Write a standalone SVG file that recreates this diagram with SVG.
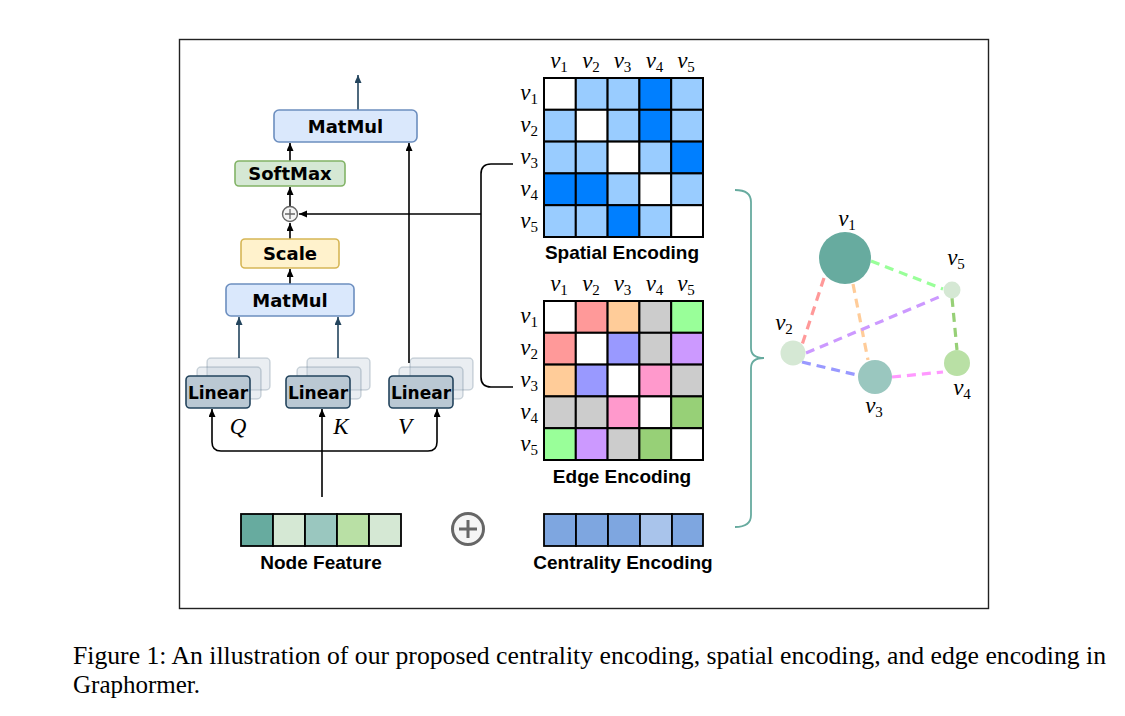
<svg xmlns="http://www.w3.org/2000/svg" width="1125" height="716" viewBox="0 0 1125 716">
<style>
.box{font-family:"DejaVu Sans",Verdana,sans-serif;font-weight:bold;font-size:18px;fill:#000;text-anchor:middle}
.lin{font-family:"DejaVu Sans",Verdana,sans-serif;font-weight:bold;font-size:17px;fill:#000;text-anchor:middle}
.cap{font-family:"Liberation Sans",Arial,sans-serif;font-weight:bold;font-size:19px;fill:#000;text-anchor:middle}
.m{font-family:"Liberation Serif","Times New Roman",serif;font-style:italic;font-size:23px;fill:#000}
.m tspan.s{font-style:normal;font-size:15px}
.mc{text-anchor:middle}
.me{text-anchor:end}
.cell{stroke:#000;stroke-width:2}
.ln{fill:none;stroke:#000;stroke-width:1.6}
.lnd{fill:none;stroke:#23445d;stroke-width:1.6}
.ge{fill:none;stroke-width:3.2;stroke-dasharray:9 6}
.back{fill:#bac8d3;fill-opacity:0.3;stroke:#23445d;stroke-opacity:0.2;stroke-width:1.5}
.front{fill:#bac8d3;stroke:#23445d;stroke-width:1.6}
</style>
<defs>
<marker id="ab" markerUnits="userSpaceOnUse" markerWidth="9" markerHeight="8" refX="8" refY="3.5" orient="auto"><path d="M0,0 L8,3.5 L0,7 Z" fill="#000"/></marker>
<marker id="ad" markerUnits="userSpaceOnUse" markerWidth="9" markerHeight="8" refX="8" refY="3.5" orient="auto"><path d="M0,0 L8,3.5 L0,7 Z" fill="#23445d"/></marker>
</defs>
<rect x="0" y="0" width="1125" height="716" fill="#fff"/>
<rect id="frame" x="179.5" y="39.5" width="809" height="569" fill="none" stroke="#222" stroke-width="1.4"/>

<g id="connectors">
<line class="lnd" x1="358" y1="110" x2="358" y2="75" marker-end="url(#ad)"/>
<line class="ln" x1="290" y1="161" x2="290" y2="143" marker-end="url(#ab)"/>
<line class="ln" x1="290" y1="206" x2="290" y2="187" marker-end="url(#ab)"/>
<line class="ln" x1="290" y1="239" x2="290" y2="223" marker-end="url(#ab)"/>
<line class="ln" x1="290" y1="284" x2="290" y2="269" marker-end="url(#ab)"/>
<line class="lnd" x1="239" y1="358" x2="239" y2="317" marker-end="url(#ad)"/>
<line class="lnd" x1="338" y1="358" x2="338" y2="317" marker-end="url(#ad)"/>
<line class="ln" x1="409" y1="363" x2="409" y2="143" marker-end="url(#ab)"/>
<line class="ln" x1="481" y1="214" x2="299" y2="214" marker-end="url(#ab)"/>
<path class="ln" d="M513,164 H491 Q481,164 481,174 V377 Q481,387 491,387 H513"/>
<line class="ln" x1="322" y1="497" x2="322" y2="409" marker-end="url(#ab)"/>
<path class="ln" d="M322,451 H221 Q212,451 212,442 V409" marker-end="url(#ab)"/>
<path class="ln" d="M322,451 H428 Q437,451 437,442 V409" marker-end="url(#ab)"/>
<path fill="none" stroke="#67ab9f" stroke-width="1.8" d="M735,190 Q751,190 751,202 V348 Q751,358 764,358 Q751,358 751,368 V515 Q751,527 735,527"/>
</g>

<g id="matmul-top"><rect x="274" y="110" width="143" height="32" rx="5" fill="#dae8fc" stroke="#6c8ebf" stroke-width="1.6"/><text class="box" x="345.5" y="132.5">MatMul</text></g>
<g id="softmax"><rect x="235" y="161" width="110" height="25" rx="4" fill="#d5e8d4" stroke="#82b366" stroke-width="1.6"/><text class="box" x="290" y="179.5">SoftMax</text></g>
<g id="add"><circle cx="290" cy="214" r="7.5" fill="#f5f5f5" stroke="#666" stroke-width="1.4"/><path d="M285,214 H295 M290,209 V219" stroke="#666" stroke-width="1.3"/></g>
<g id="scale"><rect x="241" y="239" width="98" height="29" rx="4" fill="#fff2cc" stroke="#d6b656" stroke-width="1.6"/><text class="box" x="290" y="260">Scale</text></g>
<g id="matmul-low"><rect x="226" y="284" width="128" height="32" rx="5" fill="#dae8fc" stroke="#6c8ebf" stroke-width="1.6"/><text class="box" x="290" y="306.5">MatMul</text></g>

<g id="linear-q">
<rect class="back" x="207" y="358" width="63" height="32" rx="4"/>
<rect class="back" x="197" y="367" width="64" height="32" rx="4"/>
<rect class="front" x="186" y="376" width="64" height="32" rx="4"/>
<text class="lin" x="218" y="398.5">Linear</text>
<text class="m mc" x="238" y="434" font-size="23">Q</text>
</g>
<g id="linear-k">
<rect class="back" x="307" y="358" width="63" height="32" rx="4"/>
<rect class="back" x="297" y="367" width="64" height="32" rx="4"/>
<rect class="front" x="286" y="376" width="64" height="32" rx="4"/>
<text class="lin" x="318" y="398.5">Linear</text>
<text class="m mc" x="341" y="434" font-size="23">K</text>
</g>
<g id="linear-v">
<rect class="back" x="410" y="358" width="63" height="32" rx="4"/>
<rect class="back" x="399" y="367" width="64" height="32" rx="4"/>
<rect class="front" x="389" y="376" width="64" height="32" rx="4"/>
<text class="lin" x="421" y="398.5">Linear</text>
<text class="m mc" x="405" y="434" font-size="23">V</text>
</g>

<g id="spatial-encoding">
<g class="cell">
<rect x="544" y="78" width="31.8" height="31.8" fill="#fff"/><rect x="575.8" y="78" width="31.8" height="31.8" fill="#99ccff"/><rect x="607.6" y="78" width="31.8" height="31.8" fill="#99ccff"/><rect x="639.4" y="78" width="31.8" height="31.8" fill="#007fff"/><rect x="671.2" y="78" width="31.8" height="31.8" fill="#99ccff"/>
<rect x="544" y="109.8" width="31.8" height="31.8" fill="#99ccff"/><rect x="575.8" y="109.8" width="31.8" height="31.8" fill="#fff"/><rect x="607.6" y="109.8" width="31.8" height="31.8" fill="#99ccff"/><rect x="639.4" y="109.8" width="31.8" height="31.8" fill="#007fff"/><rect x="671.2" y="109.8" width="31.8" height="31.8" fill="#99ccff"/>
<rect x="544" y="141.6" width="31.8" height="31.8" fill="#99ccff"/><rect x="575.8" y="141.6" width="31.8" height="31.8" fill="#99ccff"/><rect x="607.6" y="141.6" width="31.8" height="31.8" fill="#fff"/><rect x="639.4" y="141.6" width="31.8" height="31.8" fill="#99ccff"/><rect x="671.2" y="141.6" width="31.8" height="31.8" fill="#007fff"/>
<rect x="544" y="173.4" width="31.8" height="31.8" fill="#007fff"/><rect x="575.8" y="173.4" width="31.8" height="31.8" fill="#007fff"/><rect x="607.6" y="173.4" width="31.8" height="31.8" fill="#99ccff"/><rect x="639.4" y="173.4" width="31.8" height="31.8" fill="#fff"/><rect x="671.2" y="173.4" width="31.8" height="31.8" fill="#99ccff"/>
<rect x="544" y="205.2" width="31.8" height="31.8" fill="#99ccff"/><rect x="575.8" y="205.2" width="31.8" height="31.8" fill="#99ccff"/><rect x="607.6" y="205.2" width="31.8" height="31.8" fill="#007fff"/><rect x="639.4" y="205.2" width="31.8" height="31.8" fill="#99ccff"/><rect x="671.2" y="205.2" width="31.8" height="31.8" fill="#fff"/>
</g>
<text class="m mc" x="559" y="68">v<tspan class="s" dy="4">1</tspan></text>
<text class="m mc" x="591" y="68">v<tspan class="s" dy="4">2</tspan></text>
<text class="m mc" x="622.5" y="68">v<tspan class="s" dy="4">3</tspan></text>
<text class="m mc" x="654.5" y="68">v<tspan class="s" dy="4">4</tspan></text>
<text class="m mc" x="686" y="68">v<tspan class="s" dy="4">5</tspan></text>
<text class="m me" x="538" y="100">v<tspan class="s" dy="4">1</tspan></text>
<text class="m me" x="538" y="132">v<tspan class="s" dy="4">2</tspan></text>
<text class="m me" x="538" y="164">v<tspan class="s" dy="4">3</tspan></text>
<text class="m me" x="538" y="195.5">v<tspan class="s" dy="4">4</tspan></text>
<text class="m me" x="538" y="227.5">v<tspan class="s" dy="4">5</tspan></text>
<text class="cap" x="622" y="259">Spatial Encoding</text>
</g>

<g id="edge-encoding">
<g class="cell">
<rect x="544" y="301" width="31.8" height="31.8" fill="#fff"/><rect x="575.8" y="301" width="31.8" height="31.8" fill="#ff9999"/><rect x="607.6" y="301" width="31.8" height="31.8" fill="#ffcc99"/><rect x="639.4" y="301" width="31.8" height="31.8" fill="#cccccc"/><rect x="671.2" y="301" width="31.8" height="31.8" fill="#99ff99"/>
<rect x="544" y="332.8" width="31.8" height="31.8" fill="#ff9999"/><rect x="575.8" y="332.8" width="31.8" height="31.8" fill="#fff"/><rect x="607.6" y="332.8" width="31.8" height="31.8" fill="#9999ff"/><rect x="639.4" y="332.8" width="31.8" height="31.8" fill="#cccccc"/><rect x="671.2" y="332.8" width="31.8" height="31.8" fill="#cc99ff"/>
<rect x="544" y="364.6" width="31.8" height="31.8" fill="#ffcc99"/><rect x="575.8" y="364.6" width="31.8" height="31.8" fill="#9999ff"/><rect x="607.6" y="364.6" width="31.8" height="31.8" fill="#fff"/><rect x="639.4" y="364.6" width="31.8" height="31.8" fill="#ff99cc"/><rect x="671.2" y="364.6" width="31.8" height="31.8" fill="#cccccc"/>
<rect x="544" y="396.4" width="31.8" height="31.8" fill="#cccccc"/><rect x="575.8" y="396.4" width="31.8" height="31.8" fill="#cccccc"/><rect x="607.6" y="396.4" width="31.8" height="31.8" fill="#ff99cc"/><rect x="639.4" y="396.4" width="31.8" height="31.8" fill="#fff"/><rect x="671.2" y="396.4" width="31.8" height="31.8" fill="#97d077"/>
<rect x="544" y="428.2" width="31.8" height="31.8" fill="#99ff99"/><rect x="575.8" y="428.2" width="31.8" height="31.8" fill="#cc99ff"/><rect x="607.6" y="428.2" width="31.8" height="31.8" fill="#cccccc"/><rect x="639.4" y="428.2" width="31.8" height="31.8" fill="#97d077"/><rect x="671.2" y="428.2" width="31.8" height="31.8" fill="#fff"/>
</g>
<text class="m mc" x="559" y="291">v<tspan class="s" dy="4">1</tspan></text>
<text class="m mc" x="591" y="291">v<tspan class="s" dy="4">2</tspan></text>
<text class="m mc" x="622.5" y="291">v<tspan class="s" dy="4">3</tspan></text>
<text class="m mc" x="654.5" y="291">v<tspan class="s" dy="4">4</tspan></text>
<text class="m mc" x="686" y="291">v<tspan class="s" dy="4">5</tspan></text>
<text class="m me" x="538" y="323">v<tspan class="s" dy="4">1</tspan></text>
<text class="m me" x="538" y="355">v<tspan class="s" dy="4">2</tspan></text>
<text class="m me" x="538" y="387">v<tspan class="s" dy="4">3</tspan></text>
<text class="m me" x="538" y="418.5">v<tspan class="s" dy="4">4</tspan></text>
<text class="m me" x="538" y="450.5">v<tspan class="s" dy="4">5</tspan></text>
<text class="cap" x="622" y="483">Edge Encoding</text>
</g>

<g id="node-feature">
<g class="cell" style="stroke-width:1.8">
<rect x="241" y="514" width="32" height="32" fill="#67ab9f"/><rect x="273" y="514" width="32" height="32" fill="#d5e8d4"/><rect x="305" y="514" width="32" height="32" fill="#9ac7bf"/><rect x="337" y="514" width="32" height="32" fill="#b9e0a5"/><rect x="369" y="514" width="32" height="32" fill="#d5e8d4"/>
</g>
<text class="cap" x="321" y="569">Node Feature</text>
</g>
<g id="plus-big"><circle cx="468" cy="529" r="15.5" fill="#f5f5f5" stroke="#666" stroke-width="3"/><path d="M459,529 H477 M468,520 V538" stroke="#666" stroke-width="3"/></g>
<g id="centrality-encoding">
<g class="cell" style="stroke-width:1.8">
<rect x="544" y="514" width="32" height="32" fill="#7ea6e0"/><rect x="576" y="514" width="32" height="32" fill="#7ea6e0"/><rect x="608" y="514" width="32" height="32" fill="#7ea6e0"/><rect x="640" y="514" width="32" height="32" fill="#a9c4eb"/><rect x="672" y="514" width="31" height="32" fill="#7ea6e0"/>
</g>
<text class="cap" x="623" y="569">Centrality Encoding</text>
</g>

<g id="graph-edges">
<line class="ge" stroke="#99ff99" x1="871" y1="261" x2="943" y2="289"/>
<line class="ge" stroke="#ff9999" x1="824" y1="278" x2="802" y2="345"/>
<line class="ge" stroke="#ffcc99" x1="853" y1="284" x2="868" y2="360"/>
<line class="ge" stroke="#cc99ff" x1="806" y1="353" x2="939" y2="297"/>
<line class="ge" stroke="#9999ff" x1="802" y1="362" x2="857" y2="375"/>
<line class="ge" stroke="#ff99ff" x1="892" y1="377" x2="943" y2="372"/>
<line class="ge" stroke="#97d077" x1="952" y1="298" x2="957" y2="350"/>
</g>
<g id="node-v1"><circle cx="845" cy="258" r="26" fill="#67ab9f"/><text class="m mc" x="847" y="226">v<tspan class="s" dy="4">1</tspan></text></g>
<g id="node-v2"><circle cx="793" cy="353" r="12.5" fill="#d5e8d4"/><text class="m mc" x="784" y="330">v<tspan class="s" dy="4">2</tspan></text></g>
<g id="node-v3"><circle cx="875" cy="377" r="17" fill="#9ac7bf"/><text class="m mc" x="874" y="413">v<tspan class="s" dy="4">3</tspan></text></g>
<g id="node-v4"><circle cx="957" cy="363" r="13" fill="#b9e0a5"/><text class="m mc" x="962" y="395">v<tspan class="s" dy="4">4</tspan></text></g>
<g id="node-v5"><circle cx="952" cy="290" r="8.5" fill="#d5e8d4"/><text class="m mc" x="956" y="265">v<tspan class="s" dy="4">5</tspan></text></g>

<g id="caption" font-family="'Liberation Serif','Times New Roman',serif" font-size="25" fill="#000">
<text x="73" y="664" textLength="1033" lengthAdjust="spacingAndGlyphs">Figure 1: An illustration of our proposed centrality encoding, spatial encoding, and edge encoding in</text>
<text x="73" y="693">Graphormer.</text>
</g>
</svg>
